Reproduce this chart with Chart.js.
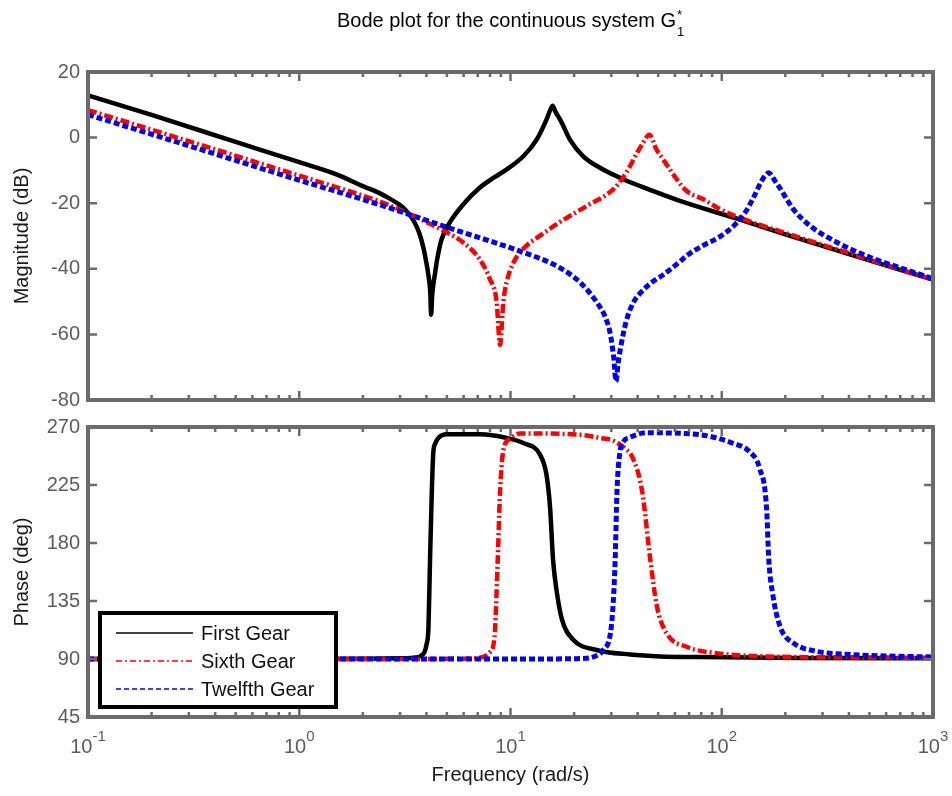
<!DOCTYPE html>
<html>
<head>
<meta charset="utf-8">
<title>Bode plot</title>
<script src="https://cdn.jsdelivr.net/npm/chart.js@4.4.1/dist/chart.umd.min.js"></script>
<style>
  body { margin: 0; background: #fff; }
  #wrap { position: relative; width: 952px; height: 796px; }
  canvas { position: absolute; left: 0; }
</style>
</head>
<body>
<div id="wrap">
  <canvas id="magChart" width="952" height="420" style="top:0"></canvas>
  <canvas id="phaseChart" width="952" height="396" style="top:400px"></canvas>
</div>
<script>
// values
const chartTitle = 'Bode plot for the continuous system G';
const seriesNames = ['First Gear', 'Sixth Gear', 'Twelfth Gear'];
const frequencyTicks = [0.1, 1, 10, 100, 1000];
const frequencyTickExponents = ['-1', '0', '1', '2', '3'];
const magnitudeTicks = [-80, -60, -40, -20, 0, 20];
const phaseTicks = [45, 90, 135, 180, 225, 270];

// First Gear
const firstMagFreq = [0.1, 0.2, 0.5, 1, 1.5, 2, 2.41, 2.63, 3.0, 3.2, 3.47, 3.7, 3.87, 4.0, 4.1, 4.17, 4.21, 4.26, 4.32, 4.39, 4.5, 4.72, 5.17, 5.98, 7.17, 8.3, 9.6, 11.5, 13.3, 14.8, 15.4, 15.84, 16.3, 17.5, 19.1, 22.1, 26.5, 34.2, 47.4, 63.4, 119, 200, 400, 700, 1000];
const firstMag = [12.9, 6.9, -1.3, -7.5, -11.2, -14.8, -17.0, -18.3, -20.6, -22.2, -25.2, -29.1, -33.6, -38.3, -42.5, -47, -54, -48, -44.5, -41.5, -37, -31, -25.8, -20.3, -15.2, -12.3, -9.7, -5.7, -0.6, 5.5, 8.3, 9.7, 8.0, 4.5, -0.6, -5.7, -9.2, -12.7, -16.3, -19.3, -24.8, -29.5, -35.5, -40.3, -43.3];
const firstPhaseFreq = [0.1, 1, 2, 3, 3.48, 3.87, 4.0, 4.09, 4.16, 4.24, 4.31, 4.4, 4.53, 4.99, 7.17, 9.6, 11.5, 13.8, 14.8, 15.4, 15.9, 16.6, 17.5, 19.8, 25.6, 36.8, 51.2, 78.9, 235, 1000];
const firstPhase = [90, 90, 90.2, 90.5, 91, 94, 101, 115, 167, 219, 250, 257, 261, 264.3, 264.3, 261.5, 257.5, 248.5, 233, 207, 167, 141, 121, 105, 97, 93.5, 92, 91.5, 90.8, 90.5];

// Sixth Gear
const sixthMagFreq = [0.1, 0.3, 1, 2, 2.41, 3.47, 4.16, 4.99, 5.98, 7.17, 7.97, 8.6, 8.92, 9.25, 9.6, 10.35, 11.5, 13.8, 17.1, 23, 30.6, 35.3, 39.8, 42.5, 45.4, 49, 52.9, 61.2, 68.2, 81.9, 98, 119, 200, 400, 700, 1000];
const sixthMag = [8.4, -1.1, -11.6, -17.7, -19.5, -23.8, -26.3, -28.9, -32.0, -37.2, -43, -50.1, -63.2, -50.1, -44, -38, -33.9, -29.9, -25.8, -20.8, -15.8, -10.7, -4.6, -1.5, 0.9, -3.5, -6.7, -12.7, -16.3, -18.8, -21.8, -24.2, -29.1, -35.2, -40.2, -43.3];
const sixthPhaseFreq = [0.1, 3, 5.98, 7.17, 7.97, 8.4, 8.7, 8.92, 9.25, 9.99, 11.1, 21.4, 26.5, 30.6, 35, 37.9, 42, 45.9, 49.3, 54.8, 68.2, 94.5, 163, 488, 1000];
const sixthPhase = [90, 90, 90.2, 91, 95, 107, 167, 219, 252, 261, 265, 264, 261.5, 259.5, 253, 246, 220, 167, 131, 110, 99.5, 94.5, 92, 91.2, 90.9];

// Twelfth Gear
const twelfthMagFreq = [0.1, 0.3, 1, 2.41, 4.99, 11.5, 16.6, 21.4, 25.6, 28, 29.6, 30.8, 31.6, 32.3, 33.0, 35.3, 38, 41, 47.4, 52.9, 63.4, 68.2, 81, 98, 116, 130, 140, 155, 162, 167, 172, 177, 189, 218, 262, 350, 503, 723, 1000];
const twelfthMag = [7.0, -2.5, -13.0, -20.5, -27.3, -35.0, -39.2, -44.2, -50.2, -54.5, -59.5, -67, -74.3, -69, -65, -56.0, -50.5, -47.5, -43.8, -41.8, -37.8, -36.0, -33.0, -30.2, -26.4, -22.5, -18.8, -13.0, -11.3, -10.7, -11.5, -12.8, -15.5, -21.8, -26.9, -31.9, -36.5, -40, -43];
const twelfthPhaseFreq = [0.1, 10, 21.4, 25, 27.5, 30.0, 31.3, 31.9, 33.0, 34.2, 36.8, 44, 78.9, 113, 135, 151, 163, 167, 174, 189, 218, 280, 402, 1000];
const twelfthPhase = [90, 90, 90.3, 92, 97, 115, 167, 219, 251, 258.6, 262, 265.5, 264, 257.4, 251, 238, 207, 167, 141, 115, 102.5, 96, 93.5, 91.5];

const fontFamily = "'Liberation Sans', Arial, sans-serif";
const frameColor = '#6b6b6b';
const tickColor = '#5c5c5c';
const labelColor = '#1a1a1a';

Chart.defaults.font.family = fontFamily;
Chart.defaults.font.size = 20;

const pts = (xs, ys) => xs.map((x, i) => ({ x: x, y: ys[i] }));

const styles = [
  { color: '#000000', width: 4.5, dash: [], legendDash: [] },
  { color: '#ff0000', width: 4.5, dash: [9, 3, 2, 3], legendDash: [6, 3, 2, 3] },
  { color: '#0000ff', width: 5, dash: [6, 3], legendDash: [5, 3] }
];

function makeDatasets(series) {
  return series.map((s, i) => ({
    label: seriesNames[i],
    data: s,
    borderColor: styles[i].color,
    borderWidth: styles[i].width,
    borderDash: styles[i].dash,
    pointRadius: 0,
    fill: false,
    cubicInterpolationMode: 'monotone',
    order: 3 - i   // blue drawn last, on top
  }));
}

// box round the axes with inward ticks, like matlab
const frame = {
  id: 'frame',
  afterDatasetsDraw(chart) {
    const { ctx, chartArea: a, scales } = chart;
    const xs = scales.x, ys = scales.y;
    ctx.save();
    ctx.strokeStyle = frameColor;
    ctx.lineWidth = 2.5;
    ctx.beginPath();
    frequencyTicks.forEach((d, n) => {
      for (let k = 1; k <= 9; k++) {
        if (n === frequencyTicks.length - 1 && k > 1) break;
        const px = xs.getPixelForValue(d * k);
        const len = k === 1 ? 9 : 5;
        ctx.moveTo(px, a.top); ctx.lineTo(px, a.top + len);
        ctx.moveTo(px, a.bottom); ctx.lineTo(px, a.bottom - len);
      }
    });
    ys.ticks.forEach(t => {
      const py = ys.getPixelForValue(t.value);
      ctx.moveTo(a.left, py); ctx.lineTo(a.left + 9, py);
      ctx.moveTo(a.right, py); ctx.lineTo(a.right - 9, py);
    });
    ctx.stroke();
    ctx.lineWidth = 4;
    ctx.strokeRect(a.left, a.top, a.right - a.left, a.bottom - a.top);
    ctx.restore();
  }
};

const titlePlugin = {
  id: 'bodeTitle',
  afterDraw(chart) {
    const { ctx, chartArea: a } = chart;
    ctx.save();
    ctx.fillStyle = '#000';
    ctx.font = '20px ' + fontFamily;
    const w = ctx.measureText(chartTitle).width;
    const x0 = (a.left + a.right) / 2 - (w + 8) / 2;
    ctx.textBaseline = 'alphabetic';
    ctx.fillText(chartTitle, x0, 27);
    ctx.font = '13px ' + fontFamily;
    ctx.fillText('*', x0 + w + 1, 19);
    ctx.fillText('1', x0 + w + 1, 36);
    ctx.restore();
  }
};

const xLabels = {
  id: 'xLabels',
  afterDraw(chart) {
    const { ctx, chartArea: a, scales } = chart;
    ctx.save();
    ctx.fillStyle = tickColor;
    ctx.textBaseline = 'alphabetic';
    frequencyTicks.forEach((v, i) => {
      const px = scales.x.getPixelForValue(v);
      ctx.font = '20px ' + fontFamily;
      const wb = ctx.measureText('10').width;
      ctx.font = '15px ' + fontFamily;
      const we = ctx.measureText(frequencyTickExponents[i]).width;
      const left = px - (wb + we) / 2;
      ctx.font = '20px ' + fontFamily;
      ctx.fillText('10', left, a.bottom + 36);
      ctx.font = '15px ' + fontFamily;
      ctx.fillText(frequencyTickExponents[i], left + wb, a.bottom + 24);
    });
    ctx.restore();
  }
};

const legendBox = {
  id: 'legendBox',
  afterDraw(chart) {
    const { ctx, chartArea: a } = chart;
    const left = a.left + 12, top = a.top + 186, w = 236, h = 94;
    ctx.save();
    ctx.fillStyle = '#fff';
    ctx.fillRect(left, top, w, h);
    ctx.strokeStyle = '#000';
    ctx.lineWidth = 4;
    ctx.strokeRect(left, top, w, h);
    ctx.font = '20px ' + fontFamily;
    ctx.textBaseline = 'middle';
    seriesNames.forEach((name, i) => {
      const y = top + 20 + i * 28;
      ctx.strokeStyle = styles[i].color;
      ctx.lineWidth = 1.5;
      ctx.setLineDash(styles[i].legendDash);
      ctx.beginPath();
      ctx.moveTo(left + 16, y); ctx.lineTo(left + 93, y);
      ctx.stroke();
      ctx.setLineDash([]);
      ctx.fillStyle = '#111';
      ctx.fillText(name, left + 101, y + 1);
    });
    ctx.restore();
  }
};

function yScale(ticks, title) {
  return {
    type: 'linear',
    min: ticks[0],
    max: ticks[ticks.length - 1],
    afterBuildTicks: s => { s.ticks = ticks.map(v => ({ value: v })); },
    afterFit: s => { s.width = 88; },
    grid: { display: false, drawTicks: false },
    border: { display: false },
    ticks: { color: tickColor, padding: 8, font: { size: 20 } },
    title: { display: true, text: title, color: labelColor, font: { size: 20 }, padding: { top: 10, bottom: 0 } }
  };
}

function xScale(showTitle) {
  return {
    type: 'logarithmic',
    min: frequencyTicks[0],
    max: frequencyTicks[frequencyTicks.length - 1],
    display: showTitle,
    afterBuildTicks: s => { s.ticks = frequencyTicks.map(v => ({ value: v })); },
    afterFit: s => { s.height = showTitle ? 79 : 0; },
    grid: { display: false, drawTicks: false },
    border: { display: false },
    ticks: { display: false },
    title: { display: true, text: 'Frequency (rad/s)', color: labelColor, font: { size: 20 }, padding: { top: 0, bottom: 9 } }
  };
}

const common = {
  responsive: false,
  animation: false,
  devicePixelRatio: 1,
  plugins: { legend: { display: false }, title: { display: false }, tooltip: { enabled: false } }
};

new Chart(document.getElementById('magChart'), {
  type: 'line',
  data: {
    datasets: makeDatasets([
      pts(firstMagFreq, firstMag),
      pts(sixthMagFreq, sixthMag),
      pts(twelfthMagFreq, twelfthMag)
    ])
  },
  options: Object.assign({}, common, {
    layout: { padding: { left: 0, right: 19, top: 72, bottom: 18 } },
    scales: { x: xScale(false), y: yScale(magnitudeTicks, 'Magnitude (dB)') }
  }),
  plugins: [frame, titlePlugin]
});

new Chart(document.getElementById('phaseChart'), {
  type: 'line',
  data: {
    datasets: makeDatasets([
      pts(firstPhaseFreq, firstPhase),
      pts(sixthPhaseFreq, sixthPhase),
      pts(twelfthPhaseFreq, twelfthPhase)
    ])
  },
  options: Object.assign({}, common, {
    layout: { padding: { left: 0, right: 19, top: 27, bottom: 0 } },
    scales: { x: xScale(true), y: yScale(phaseTicks, 'Phase (deg)') }
  }),
  plugins: [frame, xLabels, legendBox]
});
</script>
</body>
</html>
